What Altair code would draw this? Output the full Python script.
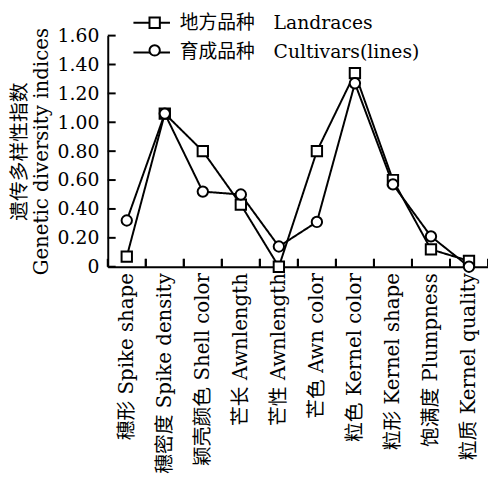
import altair as alt
import pandas as pd

cats = ["穗形 Spike shape", "穗密度 Spike density", "颖壳颜色 Shell color",
        "芒长 Awnlength", "芒性 Awnlength", "芒色 Awn color",
        "粒色 Kernel color", "粒形 Kernel shape", "饱满度 Plumpness",
        "粒质 Kernel quality"]
landraces = [0.07, 1.06, 0.80, 0.43, 0.00, 0.80, 1.34, 0.60, 0.12, 0.04]
cultivars = [0.32, 1.06, 0.52, 0.50, 0.14, 0.31, 1.27, 0.57, 0.21, 0.00]
series = ["地方品种\u2003Landraces", "育成品种\u2003Cultivars(lines)"]
marker_keys = ["L", "C"]
y_ticks = [0, 0.2, 0.4, 0.6, 0.8, 1.0, 1.2, 1.4, 1.6]

FONT = "DejaVu Serif, Noto Sans CJK SC"
W, H = 385, 234

rows = []
for s, k, vals in zip(series, marker_keys, [landraces, cultivars]):
    for c, v in zip(cats, vals):
        rows.append({"cat": c, "series": s, "key": k, "value": v})
df = pd.DataFrame(rows)
df_cats = pd.DataFrame({"cat": cats})
df_yt = pd.DataFrame({"v": y_ticks})

xscale = alt.Scale(type="band", domain=cats, paddingInner=0, paddingOuter=0)
yscale = alt.Scale(domain=[0, 1.6], nice=False, zero=True)

x_axis = alt.Axis(labelAngle=-90, labelAlign="right", labelBaseline="middle",
                  labelPadding=6, ticks=False, tickSize=0, labelLimit=400,
                  labelFont=FONT, labelFontSize=20, title=None)
y_axis = alt.Axis(values=y_ticks, ticks=False, tickSize=0, labelPadding=9,
                  labelExpr="datum.value == 0 ? '0' : format(datum.value, '.2f')",
                  labelFont=FONT, labelFontSize=19,
                  title=["遗传多样性指数", "Genetic diversity indices"],
                  titleFont=FONT, titleFontSize=20, titleFontWeight="normal",
                  titleAlign="center", titleAnchor="middle",
                  titleLineHeight=22, titlePadding=6, grid=False)

X = alt.X("cat:N", sort=cats, scale=xscale, axis=x_axis)
Y = alt.Y("value:Q", scale=yscale, axis=y_axis)

line_legend = alt.Legend(orient="none", legendX=25, legendY=-32.5, title=None,
                         labelFont=FONT, labelFontSize=19, labelOffset=9,
                         labelLimit=300, labelColor="black",
                         symbolSize=1369, symbolStrokeWidth=2,
                         symbolType="stroke", rowPadding=-12)
lines = alt.Chart(df).mark_line(color="black", strokeWidth=2).encode(
    x=X, y=Y,
    strokeDash=alt.StrokeDash("series:N",
                              scale=alt.Scale(domain=series, range=[[1, 0], [1, 0]]),
                              legend=line_legend))

shape_legend = alt.Legend(orient="none", legendX=38, legendY=-22.5, title=None,
                          labelFont=FONT, labelFontSize=19, labelOpacity=0,
                          labelExpr="''",
                          symbolSize=110, symbolStrokeWidth=2, rowPadding=8,
                          zindex=1)
points = alt.Chart(df).mark_point(filled=True, fill="white", stroke="black",
                                  strokeWidth=2, opacity=1, size=110).encode(
    x=X, y=Y,
    shape=alt.Shape("key:N", scale=alt.Scale(domain=marker_keys, range=["square", "circle"]),
                    legend=shape_legend))

xt0 = alt.Chart(df_cats).mark_rule(color="black", strokeWidth=2).encode(
    x=alt.X("cat:N", sort=cats, scale=xscale, bandPosition=0, axis=x_axis),
    y=alt.value(H), y2=alt.value(H - 8))
xt1 = alt.Chart(df_cats).mark_rule(color="black", strokeWidth=2).encode(
    x=alt.X("cat:N", sort=cats, scale=xscale, bandPosition=1, axis=x_axis),
    y=alt.value(H), y2=alt.value(H - 8))
yt = alt.Chart(df_yt).mark_rule(color="black", strokeWidth=2).encode(
    y=alt.Y("v:Q", scale=yscale, axis=y_axis), x=alt.value(0), x2=alt.value(8))

chart = alt.layer(lines, xt0, xt1, yt, points).properties(
    width=W, height=H,
    autosize=alt.AutoSizeParams(type="none"),
    padding={"left": 101, "top": 25, "right": 0, "bottom": 214},
).configure_view(stroke=None).configure_axis(
    domainColor="black", domainWidth=2, labelColor="black", titleColor="black"
)

chart.save("out.html", embed_options={"renderer": "svg", "actions": False})
